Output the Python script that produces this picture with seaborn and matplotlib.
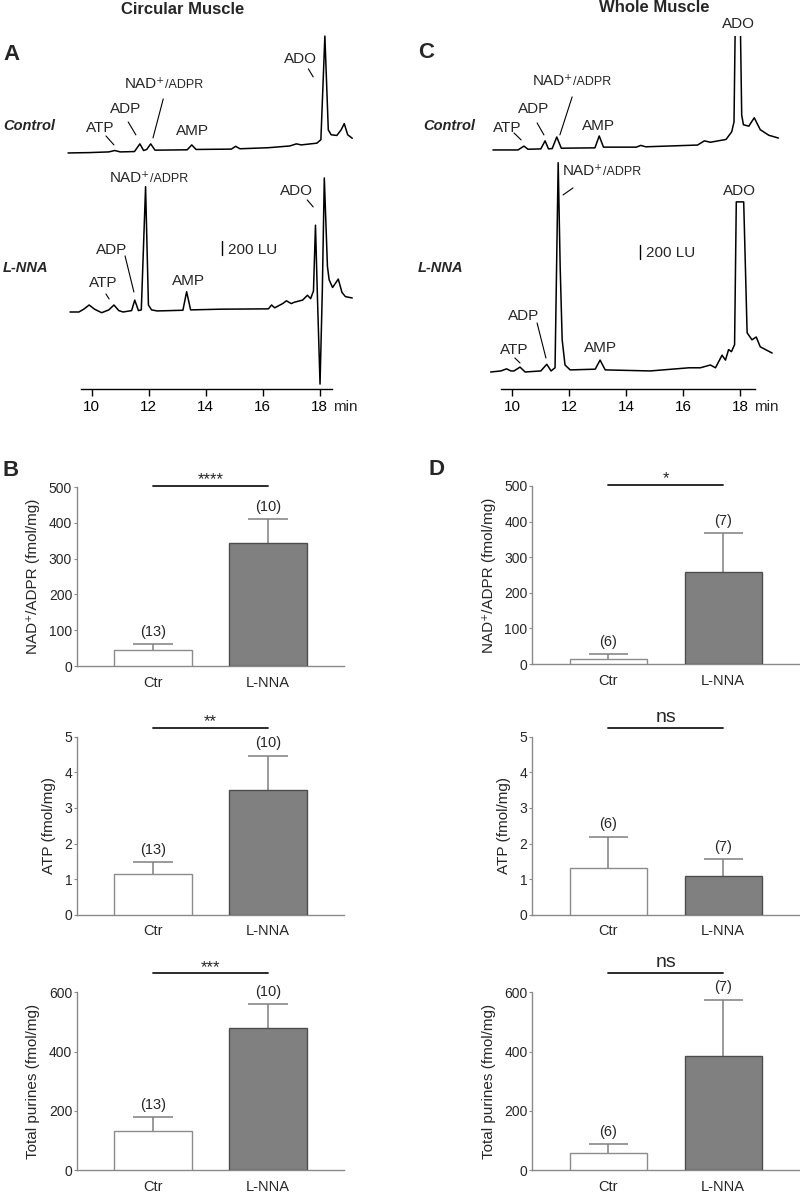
import numpy as np
import pandas as pd
import matplotlib
matplotlib.use('Agg')
import matplotlib.pyplot as plt
import seaborn as sns


"""#Chromatograms: retention time (min) and signal above own baseline (LU)"""

a_ctrl_t = [9.17, 9.9, 10.6, 10.81, 11.0, 11.5, 11.69, 11.82, 11.93, 12.07, 12.22, 13.35, 13.51, 13.66,
            14.9, 15.05, 15.2, 16.2, 16.95, 17.18, 17.35, 17.9, 18.04, 18.18, 18.3, 18.4, 18.6, 18.75,
            18.86, 18.98, 19.14]
a_ctrl_lu = [0, 5, 15, 35, 15, 20, 130, 35, 50, 130, 40, 45, 115, 50,
             55, 95, 60, 75, 100, 130, 115, 140, 190, 1670, 330, 260, 250, 330,
             420, 260, 210]

a_lnna_t = [9.24, 9.55, 9.72, 9.91, 10.1, 10.35, 10.6, 10.78, 10.95, 11.1, 11.4, 11.51, 11.64, 11.74,
            11.89, 11.99, 12.1, 12.3, 13.2, 13.33, 13.47, 14.5, 16.2, 16.31, 16.42, 16.7, 16.83, 17.0,
            17.11, 17.4, 17.57, 17.68, 17.78, 17.85, 17.92, 18.01, 18.09, 18.16, 18.27, 18.33, 18.45,
            18.65, 18.78, 18.9, 19.14]
a_lnna_lu = [0, 0, 40, 100, 40, -10, 30, 100, 20, 0, 20, 170, 20, 30,
             1790, 100, 30, 15, 25, 290, 30, 40, 45, 100, 60, 120, 160, 120,
             140, 170, 240, 190, 300, 1240, 200, -1030, 300, 1915, 650, 460, 350,
             470, 280, 220, 200]

c_ctrl_t = [9.32, 10.2, 10.41, 10.55, 11.0, 11.15, 11.27, 11.4, 11.56, 11.72, 12.9, 13.05, 13.2, 14.35,
            14.51, 14.68, 16.5, 16.74, 16.95, 17.5, 17.7, 17.78, 17.86, 17.96, 18.05, 18.11, 18.3,
            18.49, 18.7, 19.0, 19.34]
c_ctrl_lu = [0, 0, 55, 10, 15, 130, 15, 20, 185, 25, 30, 200, 40, 40,
             65, 45, 70, 130, 110, 150, 260, 400, 3000, 3000, 500, 360, 340,
             460, 290, 210, 170]

c_lnna_t = [9.24, 9.6, 9.8, 9.95, 10.06, 10.27, 10.45, 11.0, 11.21, 11.36, 11.5, 11.61, 11.68, 11.75,
            11.85, 12.03, 12.91, 13.08, 13.26, 14.84, 16.2, 16.6, 16.95, 17.13, 17.36, 17.48, 17.59,
            17.69, 17.8, 17.86, 18.12, 18.24, 18.41, 18.56, 18.7, 19.12]
c_lnna_lu = [0, 15, 45, 15, 15, 70, 0, 15, 110, 15, 60, 2990, 1500, 460,
             100, 30, 40, 170, 30, 15, 60, 60, 100, 60, 240, 170, 320,
             290, 390, 2430, 2430, 560, 460, 500, 360, 270]

time_ticks = [10, 12, 14, 16, 18]

# peak labels: (name, x, y, leader line or None), data coords of each panel
peaks_a = [('ATP', 10.29, 3730, (10.50, 3615, 10.78, 3487)),
           ('ADP', 11.20, 4001, (11.28, 3815, 11.55, 3630)),
           ('NAD', 11.17, 4358, (12.51, 4144, 12.15, 3587)),
           ('AMP', 13.52, 3687, None),
           ('ADO', 17.31, 4716, (17.60, 4573, 17.77, 4458)),
           ('ATP', 10.40, 1515, (10.50, 1358, 10.61, 1286)),
           ('ADP', 10.71, 1986, (11.17, 1901, 11.48, 1386)),
           ('NAD', 10.65, 3015, None),
           ('AMP', 13.38, 1543, None),
           ('ADO', 17.20, 2829, (17.56, 2701, 17.77, 2601))]
peaks_c = [('ATP', 9.81, 3730, (10.06, 3658, 10.31, 3558)),
           ('ADP', 10.76, 4001, (10.87, 3801, 11.11, 3630)),
           ('NAD', 10.73, 4401, (12.10, 4173, 11.67, 3630)),
           ('AMP', 13.01, 3758, None),
           ('ADO', 17.92, 5216, None),
           ('ATP', 10.06, 557, (10.09, 443, 10.27, 372)),
           ('ADP', 10.41, 1043, (10.87, 943, 11.18, 443)),
           ('NAD', 11.78, 3115, (12.13, 2872, 11.78, 2772)),
           ('AMP', 13.08, 586, None),
           ('ADO', 17.98, 2829, None)]

"""#Bar data: mean and SEM"""

groups = ['Ctr', 'L-NNA']
b_nad_mean, b_nad_sem = [44, 343], [17, 67]
b_atp_mean, b_atp_sem = [1.15, 3.49], [0.32, 0.97]
b_tot_mean, b_tot_sem = [132, 481], [46, 79]
b_n = ['(13)', '(10)']
b_sig = ['****', '**', '***']

d_nad_mean, d_nad_sem = [14, 258], [13, 109]
d_atp_mean, d_atp_sem = [1.32, 1.09], [0.87, 0.47]
d_tot_mean, d_tot_sem = [56, 386], [31, 188]
d_n = ['(6)', '(7)']
d_sig = ['*', 'ns', 'ns']

sig_y = [503, 5.25, 665]

sns.set_theme(style='ticks')
plt.rcParams['font.family'] = ['Liberation Sans', 'DejaVu Sans']

W, H = 800, 1192
fig = plt.figure(figsize=(8, 11.92), dpi=100)


def box(l, t, r, b):
    return [l / W, 1 - b / H, (r - l) / W, (b - t) / H]


LU_PX = 200 / 14


def chrom(rect, height_px, xlim, bounds, traces, peaks, scale):
    ax = fig.add_axes(box(*rect))
    for t, v, off in traces:
        sns.lineplot(x=np.array(t), y=np.array(v) + off, ax=ax, color='black',
                     lw=1.1, estimator=None, sort=False)
    ax.set_xlim(*xlim)
    ax.set_ylim(0, height_px * LU_PX)
    ax.set_yticks([])
    ax.set_xticks(time_ticks)
    ax.set_xticklabels([str(v) for v in time_ticks])
    ax.tick_params(axis='x', direction='out', length=5, width=1, pad=3,
                   labelsize=11, colors='black')
    sns.despine(ax=ax, left=True)
    ax.spines['bottom'].set_bounds(*bounds)
    ax.spines['bottom'].set_color('black')
    ax.spines['bottom'].set_linewidth(1)
    ax.patch.set_visible(False)
    ax.text(18.47, 0, 'min', transform=ax.get_xaxis_text1_transform(8)[0],
            ha='left', va='top', fontsize=11)
    for name, x, y, line in peaks:
        if name == 'NAD':
            t1 = ax.text(x, y, 'NAD\u207a', ha='left', va='center', fontsize=11)
            ax.annotate('/ADPR', xy=(1, 0), xycoords=t1, ha='left', va='bottom',
                        fontsize=9)
        else:
            ax.text(x, y, name, ha='center', va='center', fontsize=11)
        if line is not None:
            ax.plot([line[0], line[2]], [line[1], line[3]], color='black', lw=0.8,
                    clip_on=False)
    sx, sy, tx, ty = scale
    ax.plot([sx, sx], [sy, sy + 200], color='black', lw=1, clip_on=False)
    ax.text(tx, ty, '200 LU', ha='left', va='center', fontsize=11)
    return ax


chrom((63.2, 30, 356.8, 389), 359, (9.0, 19.3), (9.63, 18.43),
      [(a_ctrl_t, a_ctrl_lu, 3372), (a_lnna_t, a_lnna_lu, 1100)], peaks_a,
      (14.58, 1915, 14.79, 1986))
chrom((483.8, 36, 781.6, 389), 353, (9.0, 19.45), (9.6, 18.53),
      [(c_ctrl_t, c_ctrl_lu, 3415), (c_lnna_t, c_lnna_lu, 243)], peaks_c,
      (14.48, 1858, 14.69, 1943))


def bar_panel(rect, means, sems, yticks, ylabel, nlab, sig, sy):
    ax = fig.add_axes(box(*rect))
    df = pd.DataFrame({'group': groups, 'value': means})
    sns.barplot(data=df, x='group', y='value', hue='group', palette=['white', '#808080'],
                saturation=1, width=0.67, errorbar=None, legend=False, ax=ax,
                linewidth=1, zorder=3)
    for p, ec in zip(ax.patches, ['#8c8c8c', '#4d4d4d']):
        p.set_edgecolor(ec)
    tops = [m + s for m, s in zip(means, sems)]
    ax.vlines([0, 1], means, tops, color='#7f7f7f', lw=1.1, zorder=2)
    ax.hlines(tops, [-0.17, 0.83], [0.17, 1.17], color='#7f7f7f', lw=1.1, zorder=2)
    for i, top in enumerate(tops):
        ax.annotate(nlab[i], xy=(i, top), xytext=(0, 4), textcoords='offset points',
                    ha='center', va='bottom', fontsize=10.5, annotation_clip=False)
    ax.plot([0, 1], [sy, sy], color='#1a1a1a', lw=1.3, clip_on=False)
    if sig == 'ns':
        ax.annotate(sig, xy=(0.5, sy), xytext=(0, 4), textcoords='offset points',
                    ha='center', va='baseline', fontsize=14, annotation_clip=False)
    else:
        ax.annotate(sig, xy=(0.5, sy), xytext=(0, 1), textcoords='offset points',
                    ha='center', va='baseline', fontsize=12, annotation_clip=False)
    ax.set_xlim(-0.66, 1.66)
    ax.set_ylim(0, yticks[-1])
    ax.set_yticks(yticks)
    ax.set_xlabel('')
    ax.set_ylabel(ylabel, fontsize=11, labelpad=6)
    sns.despine(ax=ax)
    for sp in ['left', 'bottom']:
        ax.spines[sp].set_color('#8a8a8a')
        ax.spines[sp].set_linewidth(1)
    ax.tick_params(axis='y', length=2.5, width=0.8, color='#8a8a8a', labelsize=10, pad=1)
    ax.tick_params(axis='x', length=0, labelsize=10.5, pad=7)
    return ax


nad_label = 'NAD\u207a/ADPR (fmol/mg)'
bar_panel((77, 487, 344, 666), b_nad_mean, b_nad_sem, [0, 100, 200, 300, 400, 500],
          nad_label, b_n, b_sig[0], sig_y[0])
bar_panel((77, 736.7, 344, 914.7), b_atp_mean, b_atp_sem, [0, 1, 2, 3, 4, 5],
          'ATP (fmol/mg)', b_n, b_sig[1], sig_y[1])
bar_panel((77, 992.3, 344, 1170), b_tot_mean, b_tot_sem, [0, 200, 400, 600],
          'Total purines (fmol/mg)', b_n, b_sig[2], sig_y[2])
bar_panel((532.3, 486, 799, 664), d_nad_mean, d_nad_sem, [0, 100, 200, 300, 400, 500],
          nad_label, d_n, d_sig[0], sig_y[0])
bar_panel((532.3, 736.7, 799, 914.7), d_atp_mean, d_atp_sem, [0, 1, 2, 3, 4, 5],
          'ATP (fmol/mg)', d_n, d_sig[1], sig_y[1])
bar_panel((532.3, 992.3, 799, 1170), d_tot_mean, d_tot_sem, [0, 200, 400, 600],
          'Total purines (fmol/mg)', d_n, d_sig[2], sig_y[2])

# titles, panel letters and trace names
fig.text(183 / W, 1 - 9 / H, 'Circular Muscle', ha='center', va='center', fontsize=12,
         fontweight='bold')
fig.text(654 / W, 1 - 8 / H, 'Whole Muscle', ha='center', va='center', fontsize=12,
         fontweight='bold')
for letter, x, y in [('A', 3, 55), ('C', 418, 53), ('B', 3, 470), ('D', 428, 469)]:
    fig.text(x / W, 1 - y / H, letter, ha='left', va='center', fontsize=16, fontweight='bold')
for name, x, y in [('Control', 3, 126), ('L-NNA', 3, 268), ('Control', 423, 126),
                   ('L-NNA', 418, 268)]:
    fig.text(x / W, 1 - y / H, name, ha='left', va='center', fontsize=10.5,
             fontweight='bold', fontstyle='italic')

fig.savefig('out.png', dpi=100)
